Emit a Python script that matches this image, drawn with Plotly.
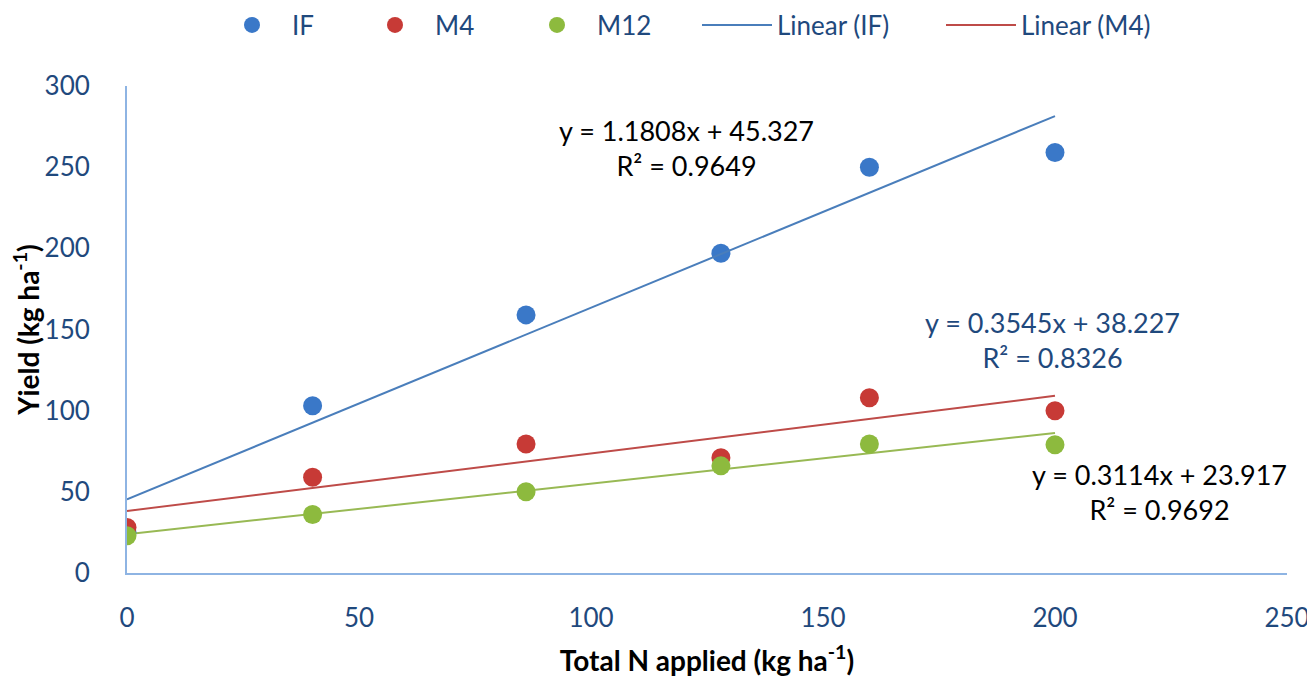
import plotly.graph_objects as go

x_n = [0, 40, 86, 128, 160, 200]
y_if = [25, 103, 159, 197, 250, 259]
y_m4 = [28, 59, 79.5, 71, 108, 100]
y_m12 = [23, 36, 50, 66, 79.5, 79]

fit_x = [0, 200]
fit_if = (1.1808, 45.327)
fit_m4 = (0.3545, 38.227)
fit_m12 = (0.3114, 23.917)

x_ticks = [0, 50, 100, 150, 200, 250]
y_ticks = [0, 50, 100, 150, 200, 250, 300]

C_BLUE = "#3A78C8"
C_RED = "#C73A36"
C_GREEN = "#8DBA3E"
L_BLUE = "#4A7EBB"
L_RED = "#BE4B48"
L_GREEN = "#98B954"
TXT = "#1F497D"
FONT = "Lato"
# page has an 8px body margin; figure sized to fit the 1315x679 window
OFF = 8
W, H = 1315 - OFF, 679 - OFF

fig = go.Figure()

def line(fit):
    m, b = fit
    return [m * v + b for v in fit_x]

fig.add_trace(go.Scatter(x=fit_x, y=line(fit_m12), mode="lines",
                         line=dict(color=L_GREEN, width=2), showlegend=False))

entries = [("IF", y_if, C_BLUE, "legend"), ("M4", y_m4, C_RED, "legend2"),
           ("M12", y_m12, C_GREEN, "legend3")]
for name, ys, col, lg in entries:
    fig.add_trace(go.Scatter(x=x_n, y=ys, mode="markers", name=name, legend=lg,
                             marker=dict(color=col, size=19, line=dict(width=0))))

fig.add_trace(go.Scatter(x=fit_x, y=line(fit_if), mode="lines", name="Linear (IF)",
                         legend="legend4", line=dict(color=L_BLUE, width=2)))
fig.add_trace(go.Scatter(x=fit_x, y=line(fit_m4), mode="lines", name="Linear (M4)",
                         legend="legend5", line=dict(color=L_RED, width=2)))

ann_font = dict(family=FONT, size=27)
fig.add_annotation(x=120.5, y=262, xref="x", yref="y",
                   text="y = 1.1808x + 45.327<br>R² = 0.9649", showarrow=False,
                   font=dict(**ann_font, color="black"), align="center")
fig.add_annotation(x=199.5, y=143.5, xref="x", yref="y",
                   text="y = 0.3545x + 38.227<br>R² = 0.8326", showarrow=False,
                   font=dict(**ann_font, color=TXT), align="center")
fig.add_annotation(x=222.6, y=50, xref="x", yref="y",
                   text="y = 0.3114x + 23.917<br>R² = 0.9692", showarrow=False,
                   font=dict(**ann_font, color="black"), align="center")

def leg(px):
    return dict(orientation="h", xref="container", yref="container",
                x=(px - OFF) / W, xanchor="left", y=1 - (25 - OFF) / H, yanchor="middle",
                itemwidth=70,
                font=dict(family=FONT, size=26, color=TXT), bgcolor="rgba(0,0,0,0)")

fig.update_layout(
    width=W, height=H,
    margin=dict(l=127 - OFF, r=28, t=86 - OFF, b=106, autoexpand=False),
    paper_bgcolor="white", plot_bgcolor="white",
    font=dict(family=FONT, size=26, color=TXT),
    legend=leg(212), legend2=leg(355), legend3=leg(517),
    legend4=leg(697), legend5=leg(941),
    xaxis=dict(range=[0, 250], tickvals=x_ticks, showgrid=False, zeroline=False,
               showline=True, linecolor="#8EB4E3", linewidth=2, ticks="",
               ticklabelstandoff=21,
               tickfont=dict(family=FONT, size=26, color=TXT),
               title=dict(text="<b>Total N applied (kg ha<sup>-1</sup>)</b>",
                          font=dict(family=FONT, size=28, color="black"), standoff=19)),
    yaxis=dict(range=[0, 300], tickvals=y_ticks, showgrid=False, zeroline=False,
               showline=True, linecolor="#8EB4E3", linewidth=2, ticks="",
               ticklabelstandoff=30,
               tickfont=dict(family=FONT, size=26, color=TXT),
               title=dict(text="<b>Yield (kg ha<sup>-1</sup>)</b>",
                          font=dict(family=FONT, size=28, color="black"), standoff=18)),
)

fig.write_html("out.html")
